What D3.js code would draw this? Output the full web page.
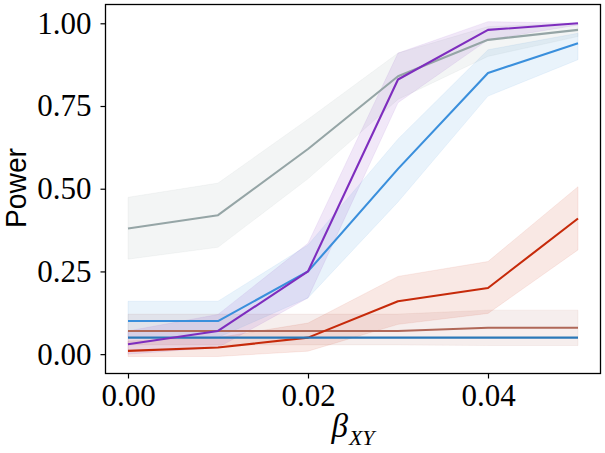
<!DOCTYPE html>
<html lang="en">
<head>
    <meta charset="UTF-8">
    <title>Power vs beta</title>
    <script src="https://d3js.org/d3.v7.min.js"></script>
    <style>
        body { margin: 0; background: #ffffff; }
        .tick text { font-family: "Liberation Serif", serif; font-size: 31px; fill: #000; }
        .tick line { stroke: #000; stroke-width: 1.2; }
        .axis path { stroke: none; }
        .frame { fill: none; stroke: #000; stroke-width: 1.3; }
        .band { stroke-width: 1; }
        .line { fill: none; stroke-width: 2.1; stroke-linejoin: round; }
    </style>
</head>
<body>
<svg id="chart" width="605" height="453"></svg>
<script>
    // x values (beta_XY)
    const betaValues = [0, 0.01, 0.02, 0.03, 0.04, 0.05];
    const xTicks = [0, 0.02, 0.04];
    const yTicks = [0, 0.25, 0.5, 0.75, 1.0];

    // series: mean, lower and upper band
    const grayMean   = [0.38, 0.42, 0.62, 0.84, 0.95, 0.98];
    const grayLow    = [0.287, 0.323, 0.53, 0.77, 0.90, 0.96];
    const grayHigh   = [0.474, 0.517, 0.71, 0.91, 0.99, 1.0];

    const purpleMean = [0.03, 0.07, 0.25, 0.83, 0.98, 1.0];
    const purpleLow  = [0.0, 0.02, 0.17, 0.76, 0.95, 0.995];
    const purpleHigh = [0.07, 0.12, 0.335, 0.91, 1.005, 1.0];

    const blueMean   = [0.10, 0.10, 0.25, 0.56, 0.85, 0.94];
    const blueLow    = [0.05, 0.05, 0.17, 0.46, 0.78, 0.89];
    const blueHigh   = [0.16, 0.16, 0.33, 0.65, 0.92, 0.97];

    const redMean    = [0.01, 0.02, 0.05, 0.16, 0.20, 0.41];
    const redLow     = [-0.007, -0.007, 0.009, 0.09, 0.123, 0.315];
    const redHigh    = [0.04, 0.05, 0.094, 0.235, 0.28, 0.506];

    const brownMean  = [0.07, 0.07, 0.07, 0.07, 0.08, 0.08];
    const brownLow   = [0.028, 0.028, 0.028, 0.028, 0.026, 0.026];
    const brownHigh  = [0.121, 0.121, 0.121, 0.121, 0.133, 0.133];

    const navyMean   = [0.05, 0.05, 0.05, 0.05, 0.05, 0.05];
    const navyLow    = [0.05, 0.05, 0.05, 0.05, 0.05, 0.05];
    const navyHigh   = [0.05, 0.05, 0.05, 0.05, 0.05, 0.05];

    const series = [
        { color: "#95a5a6", mean: grayMean,   low: grayLow,   high: grayHigh },
        { color: "#b06858", mean: brownMean,  low: brownLow,  high: brownHigh },
        { color: "#c62a0a", mean: redMean,    low: redLow,    high: redHigh },
        { color: "#3a8fdc", mean: blueMean,   low: blueLow,   high: blueHigh },
        { color: "#2a78b8", mean: navyMean,   low: navyLow,   high: navyHigh },
        { color: "#7e2dbe", mean: purpleMean, low: purpleLow, high: purpleHigh }
    ];

    const svg = d3.select("#chart");
    const margin = { top: 4.5, left: 105.5 };
    const width = 495;
    const height = 369;

    const x = d3.scaleLinear().domain([-0.0025, 0.0525]).range([0, width]);
    const y = d3.scaleLinear().domain([-0.0585, 1.0568]).range([height, 0]);

    const g = svg.append("g")
        .attr("transform", `translate(${margin.left},${margin.top})`);

    const area = d3.area()
        .x((d, i) => x(betaValues[i]))
        .y0(d => y(d[0]))
        .y1(d => y(d[1]));

    const line = d3.line()
        .x((d, i) => x(betaValues[i]))
        .y(d => y(d));

    // bands first, then lines
    series.forEach(s => {
        const pairs = s.low.map((v, i) => [v, s.high[i]]);
        g.append("path")
            .attr("class", "band")
            .attr("d", area(pairs))
            .attr("fill", s.color)
            .attr("fill-opacity", 0.11)
            .attr("stroke", s.color)
            .attr("stroke-opacity", 0.08);
    });

    series.forEach(s => {
        g.append("path")
            .attr("class", "line")
            .attr("d", line(s.mean))
            .attr("stroke", s.color);
    });

    // axes
    g.append("g")
        .attr("class", "axis")
        .attr("transform", `translate(0,${height})`)
        .call(d3.axisBottom(x).tickValues(xTicks).tickFormat(d3.format(".2f"))
            .tickSize(5).tickSizeOuter(0).tickPadding(5.5));

    g.append("g")
        .attr("class", "axis")
        .call(d3.axisLeft(y).tickValues(yTicks).tickFormat(d3.format(".2f"))
            .tickSize(5).tickSizeOuter(0).tickPadding(9));

    g.append("rect")
        .attr("class", "frame")
        .attr("width", width)
        .attr("height", height);

    // axis labels
    svg.append("text")
        .attr("transform", "translate(26,188) rotate(-90)")
        .attr("text-anchor", "middle")
        .attr("font-family", "Liberation Sans, Arial, sans-serif")
        .attr("font-size", 30)
        .attr("textLength", 80)
        .attr("lengthAdjust", "spacingAndGlyphs")
        .text("Power");

    const xl = svg.append("text")
        .attr("x", margin.left + width / 2)
        .attr("y", 437)
        .attr("text-anchor", "middle")
        .attr("font-family", "Liberation Serif, serif")
        .attr("font-style", "italic");
    xl.append("tspan").attr("font-size", 33).text("β");
    xl.append("tspan").attr("font-size", 22).attr("dy", 8).attr("dx", 1).text("XY");
</script>
</body>
</html>
